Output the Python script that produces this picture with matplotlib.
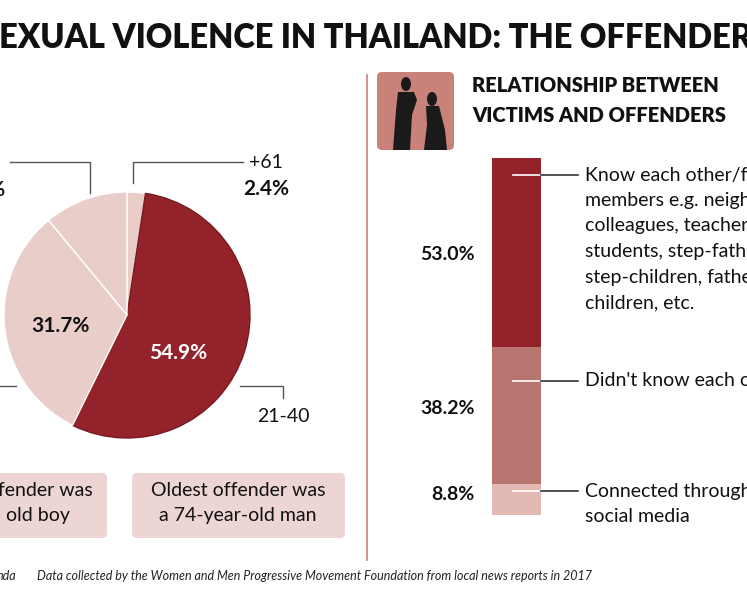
import matplotlib
matplotlib.use("Agg")
import matplotlib.pyplot as plt
from matplotlib.patches import FancyBboxPatch, Ellipse, Polygon

plt.rcParams['font.family'] = ['Lato', 'DejaVu Sans']

W, H = 747, 598
# Pie data (clockwise from top)
age_groups = ["+61", "21-40", "41-60", "?"]
age_shares = [2.4, 54.9, 31.7, 11.0]
age_colors = ["#e8cdc9", "#93222a", "#e8cdc9", "#e8cdc9"]

# Bar data (bottom to top)
rel_labels = ["Connected through\nsocial media", "Didn't know each other",
              "Know each other/family\nmembers e.g. neighbours,\ncolleagues, teachers-\nstudents, step-fathers-\nstep-children, fathers-\nchildren, etc."]
rel_values = [8.8, 38.2, 53.0]
rel_colors = ["#e3b9b3", "#b8756f", "#93222a"]

fig = plt.figure(figsize=(W/100, H/100), dpi=100)

# Pie
cx, cy, r = 127, 315, 123
pax = fig.add_axes([(cx-r)/W, (H-cy-r)/H, 2*r/W, 2*r/H])
wedges, _ = pax.pie(age_shares, colors=age_colors, startangle=90, counterclock=False,
                    wedgeprops=dict(edgecolor='white', linewidth=1))
wedges[1].set_edgecolor('#7a1a20')
pax.set_xlim(-1, 1); pax.set_ylim(-1, 1); pax.axis('off')

# Stacked bar
bx0, bx1, by0, by1 = 492, 541, 158, 515
bax = fig.add_axes([bx0/W, (H-by1)/H, (bx1-bx0)/W, (by1-by0)/H])
bottom = 0
for v, c in zip(rel_values, rel_colors):
    bax.bar(0, v, bottom=bottom, width=1, color=c, edgecolor='none')
    bottom += v
bax.set_xlim(-0.5, 0.5); bax.set_ylim(0, sum(rel_values)); bax.axis('off')

# Overlay axes in pixel coordinates
ax = fig.add_axes([0, 0, 1, 1])
ax.set_zorder(10); ax.patch.set_alpha(0)
ax.set_xlim(0, W); ax.set_ylim(H, 0); ax.axis('off')

ax.text(-19, 38, "SEXUAL VIOLENCE IN THAILAND: THE OFFENDERS", fontsize=23.5, fontweight='heavy',
        va='center', ha='left', color='#111111')

ax.text(60, 326, f"{age_shares[2]:.1f}%", fontsize=15, fontweight='bold', ha='center', va='center', color='#111')
ax.text(178, 353, f"{age_shares[1]:.1f}%", fontsize=15, fontweight='bold', ha='center', va='center', color='white')
lc = '#555555'
ax.plot([133, 133, 243], [183, 162, 162], color=lc, lw=1)
ax.text(266, 163, age_groups[0], fontsize=14, ha='center', va='center', color='#111')
ax.text(266, 189, f"{age_shares[0]:.1f}%", fontsize=15, fontweight='bold', ha='center', va='center', color='#111')
ax.plot([90, 90, 10], [193, 162, 162], color=lc, lw=1)
ax.text(6, 190, f"{age_shares[3]:.1f}%", fontsize=15, fontweight='bold', ha='right', va='center', color='#111')
ax.plot([0, 16], [386, 386], color=lc, lw=1)
ax.plot([240, 283, 283], [386, 386, 398], color=lc, lw=1)
ax.text(283, 417, age_groups[1], fontsize=14, ha='center', va='center', color='#111')

# Boxes
ax.add_patch(FancyBboxPatch((-20, 473), 127, 65, boxstyle="round,pad=0,rounding_size=5",
                            fc='#ecd5d2', ec='none'))
ax.text(93, 490, "ffender was", fontsize=14, ha='right', va='center', color='#111')
ax.text(70, 515, "old boy", fontsize=14, ha='right', va='center', color='#111')
ax.add_patch(FancyBboxPatch((132, 473), 213, 65, boxstyle="round,pad=0,rounding_size=5",
                            fc='#ecd5d2', ec='none'))
ax.text(238, 490, "Oldest offender was", fontsize=14, ha='center', va='center', color='#111')
ax.text(238, 515, "a 74-year-old man", fontsize=14, ha='center', va='center', color='#111')

# Separator
ax.plot([367, 367], [75, 560], color='#c7837d', lw=1.2)

# Icon
ax.add_patch(FancyBboxPatch((377, 72), 77, 78, boxstyle="round,pad=0,rounding_size=5",
                            fc='#c9827a', ec='none'))
ax.add_patch(Ellipse((406, 84), 10, 14, fc='#1a1a1a'))
ax.add_patch(Polygon([[398, 92], [414, 92], [417, 100], [412, 115], [410, 150], [393, 150], [396, 110]], fc='#1a1a1a'))
ax.add_patch(Ellipse((432, 99), 10, 14, fc='#1a1a1a'))
ax.add_patch(Polygon([[426, 106], [439, 106], [445, 130], [447, 150], [424, 150], [427, 125]], fc='#1a1a1a'))

ax.text(472, 86, "RELATIONSHIP BETWEEN", fontsize=14.5, fontweight='heavy', va='center', color='#111')
ax.text(472, 115, "VICTIMS AND OFFENDERS", fontsize=14.5, fontweight='heavy', va='center', color='#111')

pct_y = [495, 408, 255]
line_y = [491, 381, 175]
for lab, v, py, ly in zip(rel_labels, rel_values, pct_y, line_y):
    ax.text(475, py, f"{v:.1f}%", fontsize=14, fontweight='bold', ha='right', va='center', color='#111')
    ax.plot([513, 541], [ly, ly], color='white', lw=1.2)
    ax.plot([541, 578], [ly, ly], color='#333', lw=1.2)
    for i, line in enumerate(lab.split("\n")):
        ax.text(585, ly + i*25.5, line, fontsize=14, ha='left', va='center', color='#111')

# Footer
ax.text(-3, 576, "nda", fontsize=9, style='italic', ha='left', va='center', color='#222')
ax.text(37, 576, "Data collected by the Women and Men Progressive Movement Foundation from local news reports in 2017",
        fontsize=9, style='italic', ha='left', va='center', color='#222')

fig.savefig("out.png", dpi=100)
